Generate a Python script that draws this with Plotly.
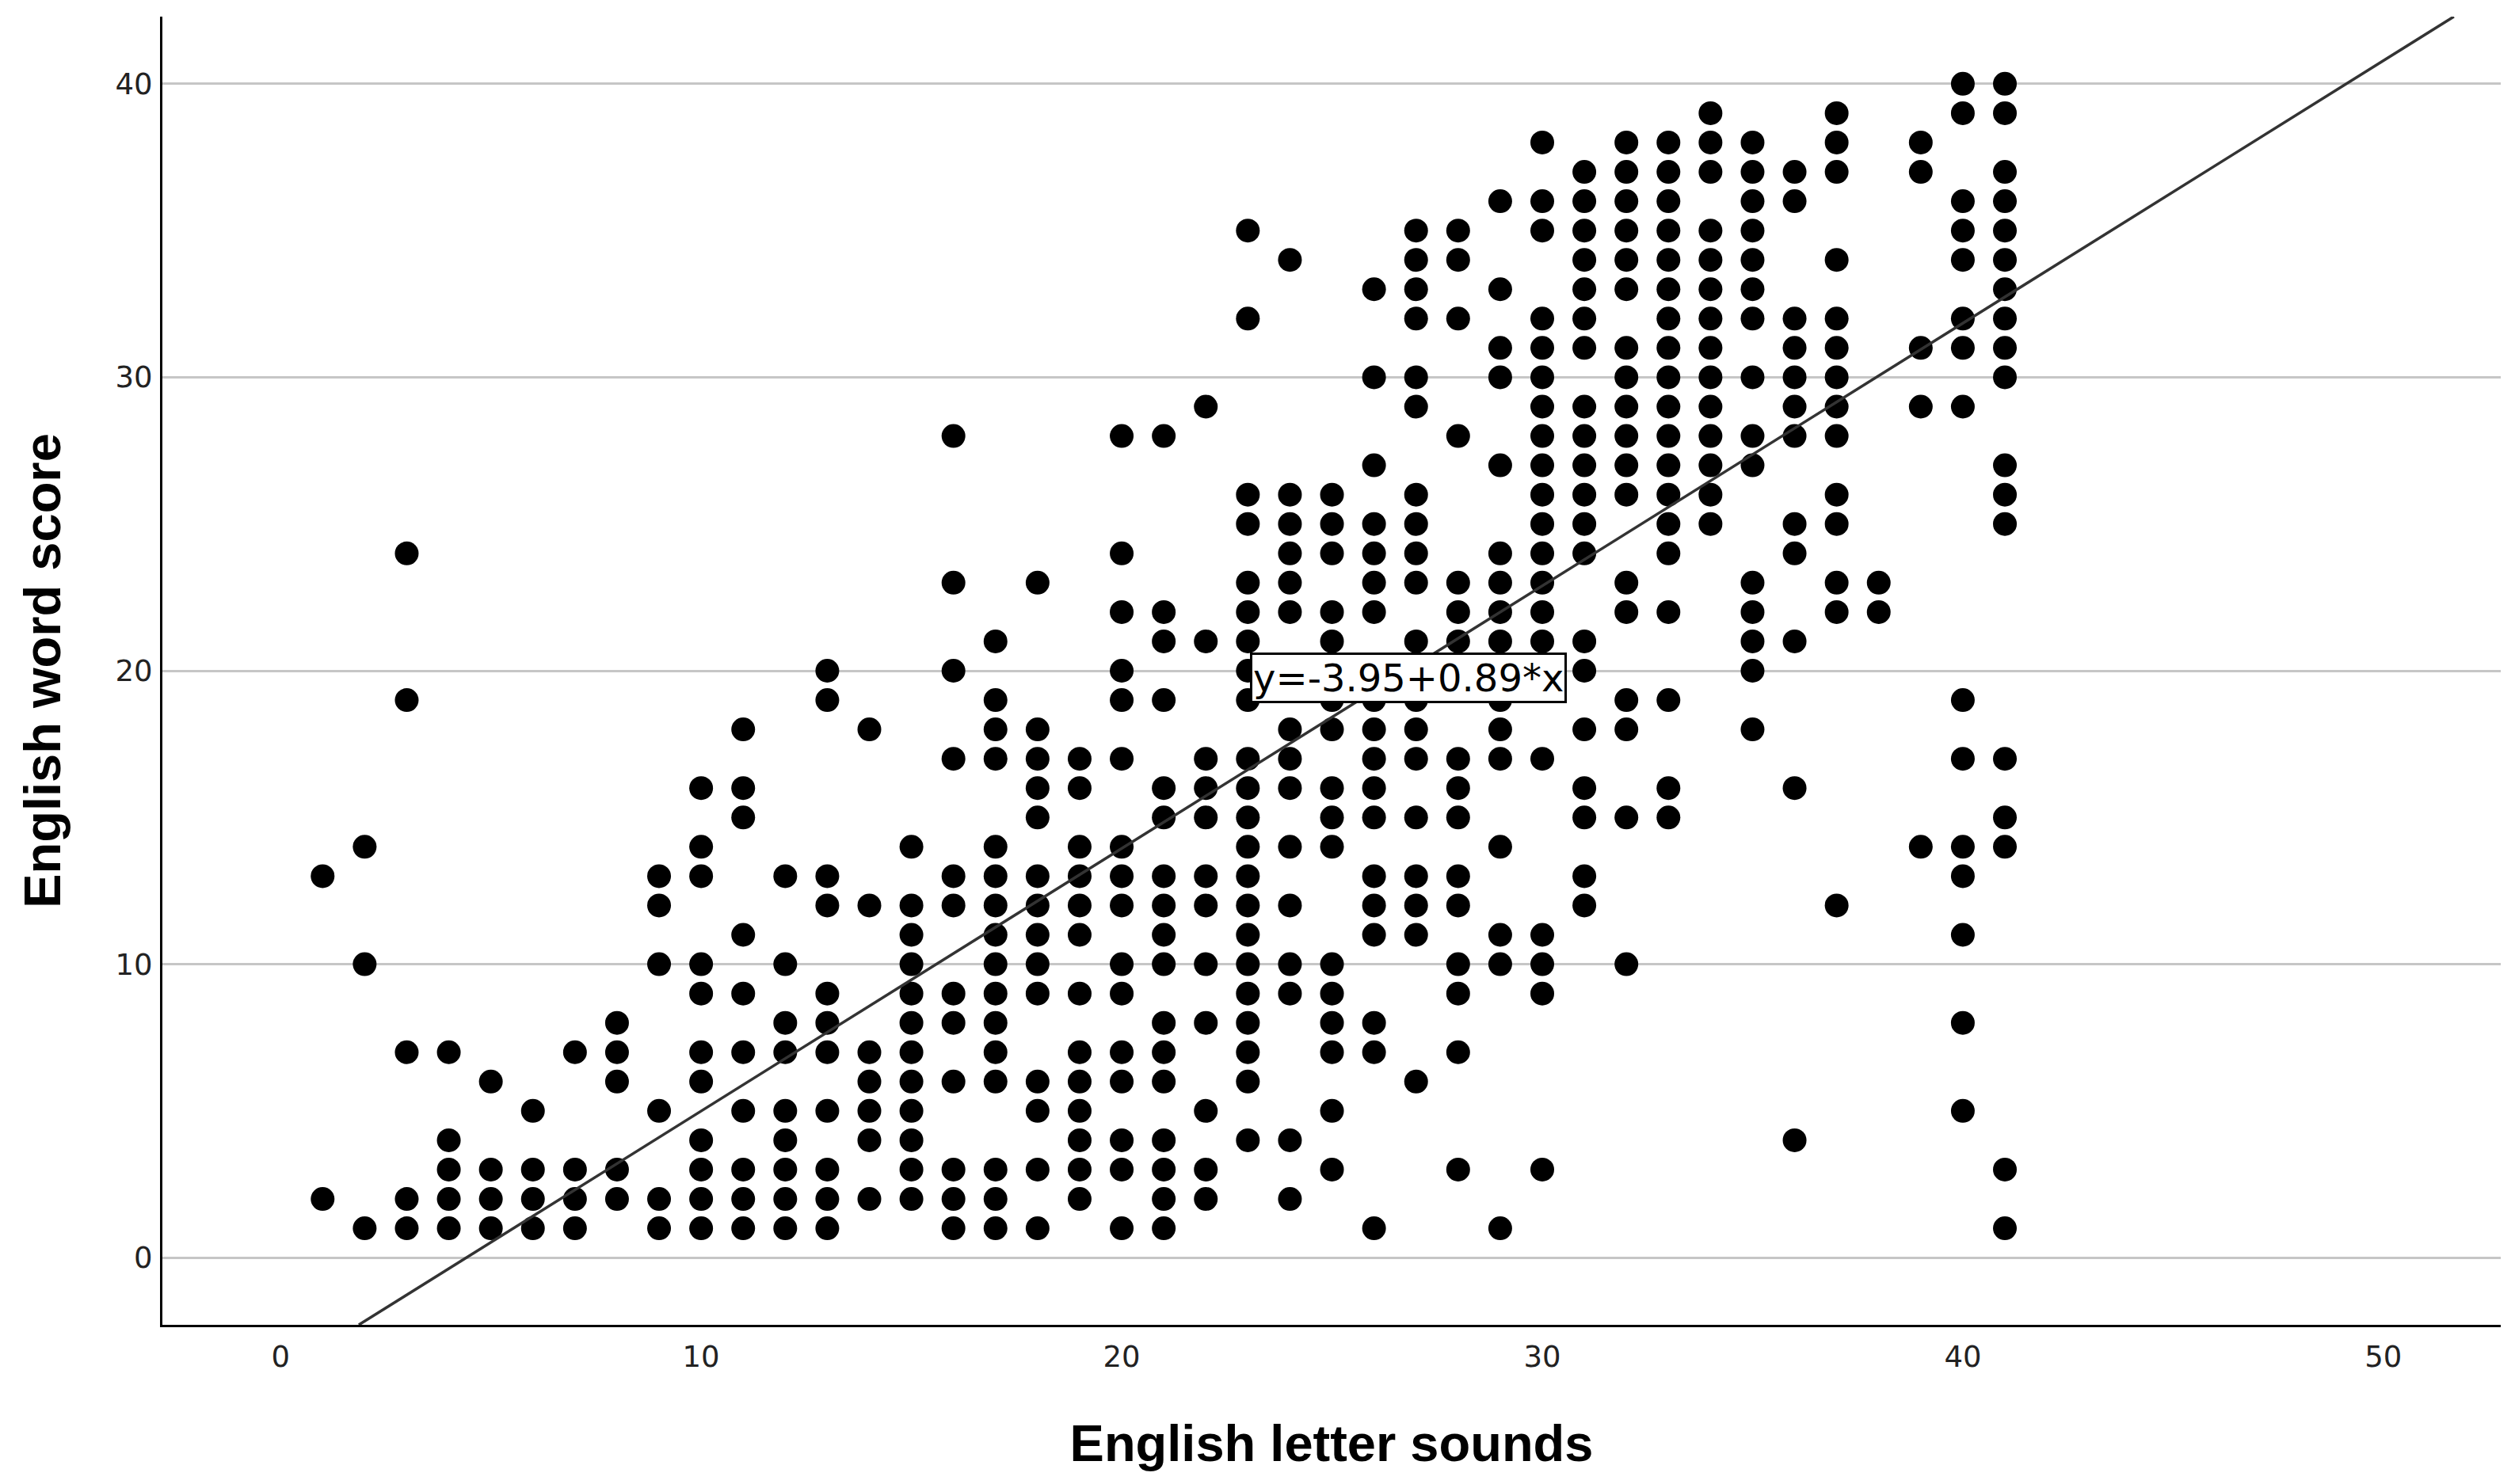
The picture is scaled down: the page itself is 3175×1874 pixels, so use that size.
import plotly.graph_objects as go

# ---- data: English letter sounds (x) vs English word score (y), one entry per dot ----
col_x = list(range(1, 42))
col_y = [
    [13, 2],                                                     # 1
    [14, 10, 1],                                                 # 2
    [24, 19, 7, 2, 1],                                           # 3
    [7, 4, 3, 2, 1],                                             # 4
    [6, 3, 2, 1],                                                # 5
    [5, 3, 2, 1],                                                # 6
    [7, 3, 2, 1],                                                # 7
    [8, 7, 6, 3, 2],                                             # 8
    [13, 12, 10, 5, 2, 1],                                       # 9
    [16, 14, 13, 10, 9, 7, 6, 4, 3, 2, 1],                       # 10
    [18, 16, 15, 11, 9, 7, 5, 3, 2, 1],                          # 11
    [13, 10, 8, 7, 5, 4, 3, 2, 1],                               # 12
    [20, 19, 13, 12, 9, 8, 7, 5, 3, 2, 1],                       # 13
    [18, 12, 7, 6, 5, 4, 2],                                     # 14
    [14, 12, 11, 10, 9, 8, 7, 6, 5, 4, 3, 2],                    # 15
    [28, 23, 20, 17, 13, 12, 9, 8, 6, 3, 2, 1],                  # 16
    [21, 19, 18, 17, 14, 13, 12, 11, 10, 9, 8, 7, 6, 3, 2, 1],   # 17
    [23, 18, 17, 16, 15, 13, 12, 11, 10, 9, 6, 5, 3, 1],         # 18
    [17, 16, 14, 13, 12, 11, 9, 7, 6, 5, 4, 3, 2],               # 19
    [28, 24, 22, 20, 19, 17, 14, 13, 12, 10, 9, 7, 6, 4, 3, 1],  # 20
    [28, 22, 21, 19, 16, 15, 13, 12, 11, 10, 8, 7, 6, 4, 3, 2, 1],  # 21
    [29, 21, 17, 16, 15, 13, 12, 10, 8, 5, 3, 2],                # 22
    [35, 32, 26, 25, 23, 22, 21, 20, 19, 17, 16, 15, 14, 13, 12, 11, 10, 9, 8, 7, 6, 4],  # 23
    [34, 26, 25, 24, 23, 22, 18, 17, 16, 14, 12, 10, 9, 4, 2],   # 24
    [26, 25, 24, 22, 21, 19, 18, 16, 15, 14, 10, 9, 8, 7, 5, 3], # 25
    [33, 30, 27, 25, 24, 23, 22, 20, 19, 18, 17, 16, 15, 13, 12, 11, 8, 7, 1],  # 26
    [35, 34, 33, 32, 30, 29, 26, 25, 24, 23, 21, 20, 19, 18, 17, 15, 13, 12, 11, 6],  # 27
    [35, 34, 32, 28, 23, 22, 21, 17, 16, 15, 13, 12, 10, 9, 7, 3],  # 28
    [36, 33, 31, 30, 27, 24, 23, 22, 21, 19, 18, 17, 14, 11, 10, 1],  # 29
    [38, 36, 35, 32, 31, 30, 29, 28, 27, 26, 25, 24, 23, 22, 21, 20, 17, 11, 10, 9, 3],  # 30
    [37, 36, 35, 34, 33, 32, 31, 29, 28, 27, 26, 25, 24, 21, 20, 18, 16, 15, 13, 12],  # 31
    [38, 37, 36, 35, 34, 33, 31, 30, 29, 28, 27, 26, 23, 22, 19, 18, 15, 10],  # 32
    [38, 37, 36, 35, 34, 33, 32, 31, 30, 29, 28, 27, 26, 25, 24, 22, 19, 16, 15],  # 33
    [39, 38, 37, 35, 34, 33, 32, 31, 30, 29, 28, 27, 26, 25],   # 34
    [38, 37, 36, 35, 34, 33, 32, 30, 28, 27, 23, 22, 21, 20, 18],  # 35
    [37, 36, 32, 31, 30, 29, 28, 25, 24, 21, 16, 4],             # 36
    [39, 38, 37, 34, 32, 31, 30, 29, 28, 26, 25, 23, 22, 12],    # 37
    [23, 22],                                                    # 38
    [38, 37, 31, 29, 14],                                        # 39
    [40, 39, 36, 35, 34, 32, 31, 29, 19, 17, 14, 13, 11, 8, 5],  # 40
    [40, 39, 37, 36, 35, 34, 33, 32, 31, 30, 27, 26, 25, 17, 15, 14, 3, 1],  # 41
]

# fit line (label shows the rounded coefficients)
fit_intercept = -3.954
fit_slope = 0.8949
fit_label = "y=-3.95+0.89*x"

x_ticks = [0, 10, 20, 30, 40, 50]
y_ticks = [0, 10, 20, 30, 40]
x_title = "English letter sounds"
y_title = "English word score"

x_range = [-2.81, 52.79]
y_range = [-2.29, 42.29]

# ---- build flat point lists ----
xs, ys = [], []
for xv, yl in zip(col_x, col_y):
    for yv in yl:
        xs.append(xv)
        ys.append(yv)

fig = go.Figure()
fig.add_trace(go.Scatter(
    x=xs, y=ys, mode="markers",
    marker=dict(color="black", size=30, line=dict(width=0)),
    showlegend=False, hoverinfo="skip",
))

# fit line across the plotted range (clipped by plot area)
lx = [(y_range[0] - fit_intercept) / fit_slope, (y_range[1] - fit_intercept) / fit_slope]
ly = [fit_intercept + fit_slope * v for v in lx]
fig.add_trace(go.Scatter(
    x=lx, y=ly, mode="lines",
    line=dict(color="#333333", width=3.5),
    showlegend=False, hoverinfo="skip",
))

fig.add_annotation(
    x=26.82, y=19.76, xref="x", yref="y",
    text=fit_label, showarrow=False,
    font=dict(family="DejaVu Sans", size=48, color="black"),
    bgcolor="white", bordercolor="black", borderwidth=3, borderpad=1,
)

# the page body has an 8px default margin; figure is sized to compensate
fig.update_layout(
    width=3167, height=1866,
    margin=dict(l=197, r=18, t=13, b=201, autoexpand=False),
    paper_bgcolor="white", plot_bgcolor="white",
    xaxis=dict(
        range=x_range, tickvals=x_ticks, ticks="",
        showgrid=False, zeroline=False,
        showline=True, linecolor="black", linewidth=3,
        tickfont=dict(family="DejaVu Sans", size=37, color="#222"),
        ticklabelstandoff=6,
        title=dict(text=x_title, standoff=66,
                   font=dict(family="Liberation Sans", size=65, color="black", weight="bold")),
        automargin=False,
    ),
    yaxis=dict(
        range=y_range, tickvals=y_ticks, ticks="",
        showgrid=True, gridcolor="#c6c6c6", gridwidth=3,
        zeroline=False,
        showline=True, linecolor="black", linewidth=3,
        tickfont=dict(family="DejaVu Sans", size=37, color="#222"),
        ticklabelstandoff=2,
        title=dict(text=y_title, standoff=48,
                   font=dict(family="Liberation Sans", size=65, color="black", weight="bold")),
        automargin=False,
    ),
)

fig.write_html("out.html")
